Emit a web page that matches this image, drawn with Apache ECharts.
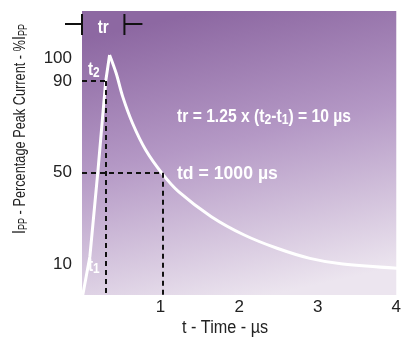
<!DOCTYPE html>
<html>
<head>
<meta charset="utf-8">
<script src="https://cdn.jsdelivr.net/npm/echarts@6/dist/echarts.min.js"></script>
<style>
  html, body { margin: 0; padding: 0; background: #fff; }
  #main { width: 404px; height: 345px; }
</style>
</head>
<body>
<div id="main"></div>
<script>
  // waveform (t in us, current in % of Ipp)
  const timeUs = [0.01, 0.10, 0.204, 0.301, 0.351, 0.435, 0.518, 0.643, 0.811, 1.019, 1.229, 1.646, 2.065, 2.483, 2.900, 3.319, 4.01];
  const currentPct = [-3.4, 13.3, 51.2, 89.7, 101.4, 93.4, 83.2, 71.6, 59.9, 49.7, 41.7, 30.8, 22.8, 17.0, 12.6, 10.1, 8.3];
  const peakIndex = 4;
  const xTicks = [1, 2, 3, 4];
  const yTicks = [10, 50, 90, 100];
  const t2Point = [0.30, 90];
  const tdPoint = [1.03, 50];
  const trRange = [0, 0.54];

  const yMin = -3.4, yMax = 120.6;
  const font = '"Liberation Sans", Arial, sans-serif';

  const rise = timeUs.slice(0, peakIndex + 1).map((t, i) => [t, currentPct[i]]);
  const decay = timeUs.slice(peakIndex).map((t, i) => [t, currentPct[i + peakIndex]]);

  const dash = { color: '#111', width: 2, type: [5, 4] };

  const chart = echarts.init(document.getElementById('main'));
  const option = {
    animation: false,
    grid: {
      left: 82, right: 3, top: 11, bottom: 50,
      show: true, borderWidth: 0,
      backgroundColor: new echarts.graphic.LinearGradient(0.4, 0, 0.6, 1, [
        { offset: 0, color: '#8d68a2' },
        { offset: 0.45, color: '#b498c5' },
        { offset: 1, color: '#ece5ef' }
      ])
    },
    xAxis: {
      type: 'value', min: 0, max: 4,
      axisLine: { show: false }, axisTick: { show: false }, splitLine: { show: false },
      axisLabel: { customValues: xTicks, color: '#222', fontFamily: font, fontSize: 17, margin: 4 }
    },
    yAxis: {
      type: 'value', min: yMin, max: yMax,
      axisLine: { show: false }, axisTick: { show: false }, splitLine: { show: false },
      axisLabel: { customValues: yTicks, color: '#222', fontFamily: font, fontSize: 17, margin: 10 }
    },
    series: [
      {
        type: 'line', data: rise, symbol: 'none', smooth: false,
        lineStyle: { color: '#fff', width: 3 }, z: 3,
        markLine: {
          silent: true, symbol: 'none', label: { show: false }, lineStyle: dash,
          data: [
            [{ coord: [0, t2Point[1]] }, { coord: t2Point }],
            [{ coord: t2Point }, { coord: [t2Point[0], yMin] }],
            [{ coord: [0, tdPoint[1]] }, { coord: tdPoint }],
            [{ coord: tdPoint }, { coord: [tdPoint[0], yMin] }]
          ]
        }
      },
      {
        type: 'line', data: decay, symbol: 'none', smooth: 0.35,
        lineStyle: { color: '#fff', width: 3 }, z: 3
      }
    ]
  };
  chart.setOption(option);

  // tr bracket and labels
  const x0 = chart.convertToPixel({ gridIndex: 0 }, [trRange[0], 0])[0];
  const x1 = chart.convertToPixel({ gridIndex: 0 }, [trRange[1], 0])[0];
  const by = 24;
  const bold = { fill: '#fff', fontFamily: font, fontWeight: 'bold', fontSize: 18 };
  const rich = {
    s: { fill: '#fff', fontFamily: font, fontWeight: 'bold', fontSize: 14, verticalAlign: 'bottom', padding: [6, 0, 0, 0] }
  };
  chart.setOption({
    graphic: [
      { type: 'line', shape: { x1: 65, y1: by, x2: x0, y2: by }, style: { stroke: '#111', lineWidth: 2 } },
      { type: 'line', shape: { x1: x0, y1: 14, x2: x0, y2: 35 }, style: { stroke: '#111', lineWidth: 2 } },
      { type: 'line', shape: { x1: x1, y1: by, x2: x1 + 18, y2: by }, style: { stroke: '#111', lineWidth: 2 } },
      { type: 'line', shape: { x1: x1, y1: 14, x2: x1, y2: 35 }, style: { stroke: '#111', lineWidth: 2 } },
      { type: 'text', x: (x0 + x1) / 2, y: 28, scaleX: 0.85, style: Object.assign({ text: 'tr', align: 'center', verticalAlign: 'middle' }, bold) },
      { type: 'text', x: 88, y: 70, scaleX: 0.85, style: Object.assign({ text: 't{s|2}', align: 'left', verticalAlign: 'middle', rich: rich }, bold) },
      { type: 'text', x: 88, y: 266, scaleX: 0.85, style: Object.assign({ text: 't{s|1}', align: 'left', verticalAlign: 'middle', rich: rich }, bold) },
      { type: 'text', x: 177, y: 117, scaleX: 0.87, style: Object.assign({ text: 'tr = 1.25 x (t{s|2}-t{s|1}) = 10 µs', align: 'left', verticalAlign: 'middle', rich: rich }, bold) },
      { type: 'text', x: 177, y: 174, scaleX: 0.98, style: Object.assign({ text: 'td = 1000 µs', align: 'left', verticalAlign: 'middle' }, bold) },
      {
        type: 'text', x: 225, y: 328, scaleX: 0.9,
        style: { text: 't - Time - µs', align: 'center', verticalAlign: 'middle', fill: '#222', fontFamily: font, fontSize: 18 }
      },
      {
        type: 'text', x: 20, y: 129, rotation: Math.PI / 2, scaleX: 0.75,
        style: {
          text: '{b|I}{p|PP} - Percentage Peak Current - %{b|I}{p|PP}',
          align: 'center', verticalAlign: 'middle',
          fill: '#222', fontFamily: font, fontSize: 17,
          rich: {
            b: { fill: '#222', fontFamily: font, fontSize: 19, verticalAlign: 'bottom' },
            p: { fill: '#222', fontFamily: font, fontSize: 12, verticalAlign: 'bottom' }
          }
        }
      }
    ]
  });
</script>
</body>
</html>
